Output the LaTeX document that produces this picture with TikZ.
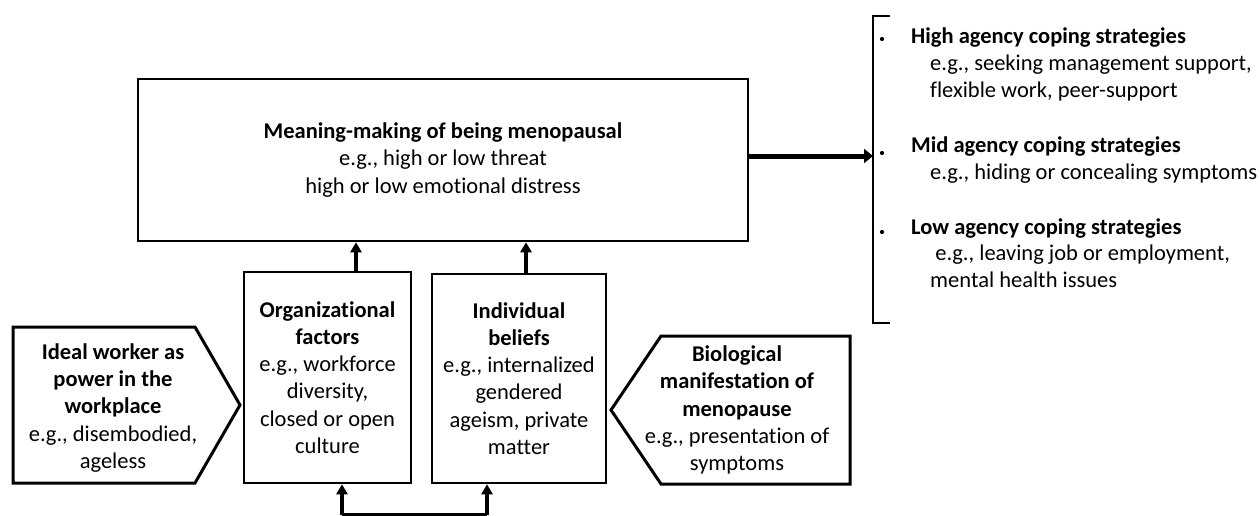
\documentclass[tikz,border=0pt]{standalone}
\usepackage{fontspec}
\setmainfont{Carlito}[Ligatures=NoCommon]
\usetikzlibrary{arrows.meta}
\begin{document}
\begin{tikzpicture}[x=1pt,y=-1pt,
  txt/.style={font=\fontsize{22.5}{27.3}\selectfont, align=center, inner sep=0pt},
  rtxt/.style={font=\fontsize{22.5}{27}\selectfont, align=left, inner sep=0pt, anchor=mid west},
  box/.style={draw, line width=2.6pt, inner sep=0pt},
  shapeline/.style={line width=3pt, line join=miter},
  uparrow/.style={line width=3.2pt, -{Triangle[length=10pt,width=11pt]}},
  bigarrow/.style={line width=5pt, -{Triangle[length=9pt,width=14pt]}}]
\useasboundingbox (0,0) rectangle (1260,516);

% main box
\node[box, minimum width=610pt, minimum height=162pt, txt] (main) at (443,160)
  {\textbf{Meaning-making of being menopausal}\\e.g., high or low threat\\high or low emotional distress};

% organizational and individual boxes
\node[box, minimum width=167pt, minimum height=211pt, txt] (org) at (327.5,377.5)
  {\textbf{Organizational}\\\textbf{factors}\\e.g., workforce\\diversity,\\closed or open\\culture};
\node[box, minimum width=174pt, minimum height=209pt, txt] (ind) at (519,378.5)
  {\textbf{Individual}\\\textbf{beliefs}\\e.g., internalized\\gendered\\ageism, private\\matter};

% pentagons
\draw[shapeline] (13,327) -- (195,327) -- (240,405) -- (195,483) -- (13,483) -- cycle;
\node[txt] (ideal) at (113,408)
  {\textbf{Ideal worker as}\\\textbf{power in the}\\\textbf{workplace}\\e.g., disembodied,\\ageless};
\draw[shapeline] (611,410) -- (661,336) -- (850,336) -- (850,484) -- (661,484) -- cycle;
\node[txt] (bio) at (737,410)
  {\textbf{Biological}\\\textbf{manifestation of}\\\textbf{menopause}\\e.g., presentation of\\symptoms};

% arrows to main box
\coordinate (a1) at (356,0);
\coordinate (a2) at (526,0);
\draw[uparrow] (a1 |- org.north) -- (a1 |- main.south);
\draw[uparrow] (a2 |- ind.north) -- (a2 |- main.south);

% bottom U connector
\coordinate (b1) at (342,514.5);
\coordinate (b2) at (487,514.5);
\draw[line width=3pt] (b1) -- (b2);
\draw[uparrow] (b1) -- (b1 |- org.south);
\draw[uparrow] (b2) -- (b2 |- ind.south);

% bracket
\coordinate (bt) at (873,16);
\coordinate (bb) at (873,323);
\coordinate (br) at (873,156);
\draw[line width=2.6pt] (890,16) -- (bt) -- (bb) -- (890,323);
\draw[bigarrow] (main.east |- br) -- (br);

% list
\fill (882,39) circle (2.1pt);
\fill (882,153) circle (2.1pt);
\fill (882,232) circle (2.1pt);
\node[rtxt] (h1) at (911,41) {\textbf{High agency coping strategies}};
\node[rtxt] (d1a) at (930,68) {e.g., seeking management support,};
\node[rtxt] (d1b) at (930,95) {flexible work, peer-support};
\node[rtxt] (h2) at (911,150) {\textbf{Mid agency coping strategies}};
\node[rtxt] (d2a) at (930,177) {e.g., hiding or concealing symptoms};
\node[rtxt] (h3) at (911,232) {\textbf{Low agency coping strategies}};
\node[rtxt] (d3a) at (930,258) {\ e.g., leaving job or employment,};
\node[rtxt] (d3b) at (930,285) {mental health issues};
\end{tikzpicture}
\end{document}
